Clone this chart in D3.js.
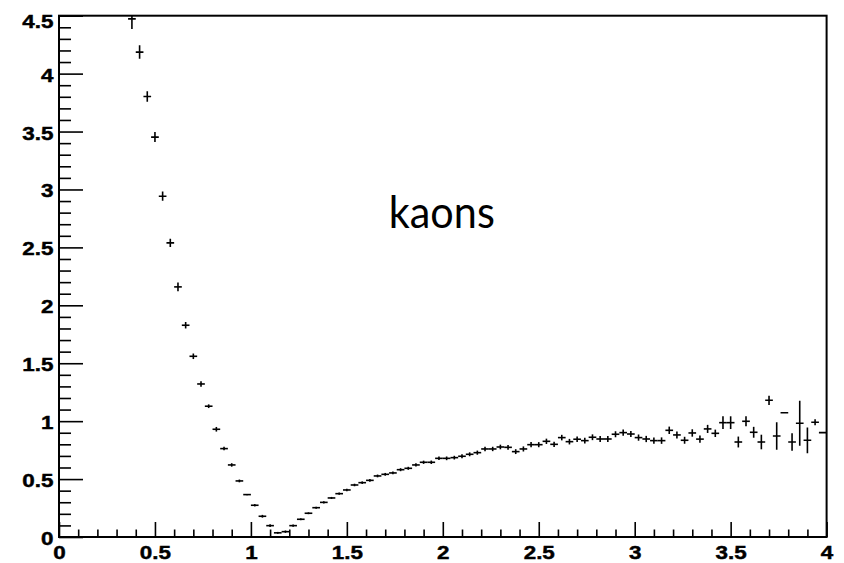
<!DOCTYPE html>
<html>
<head>
<meta charset="utf-8">
<script src="https://cdn.jsdelivr.net/npm/d3@7"></script>
<style>
  html, body { margin: 0; padding: 0; background: #ffffff; }
  svg { display: block; }
</style>
</head>
<body>
<svg id="chart" width="844" height="563"></svg>
<script>
// Histogram bin centres (bin width 0.04), contents and their errors
const binCenters = [
  0.38, 0.42, 0.46, 0.50, 0.54, 0.58, 0.62, 0.66, 0.70, 0.74,
  0.78, 0.82, 0.86, 0.90, 0.94, 0.98, 1.02, 1.06, 1.10, 1.14,
  1.18, 1.22, 1.26, 1.30, 1.34, 1.38, 1.42, 1.46, 1.50, 1.54,
  1.58, 1.62, 1.66, 1.70, 1.74, 1.78, 1.82, 1.86, 1.90, 1.94,
  1.98, 2.02, 2.06, 2.10, 2.14, 2.18, 2.22, 2.26, 2.30, 2.34,
  2.38, 2.42, 2.46, 2.50, 2.54, 2.58, 2.62, 2.66, 2.70, 2.74,
  2.78, 2.82, 2.86, 2.90, 2.94, 2.98, 3.02, 3.06, 3.10, 3.14,
  3.18, 3.22, 3.26, 3.30, 3.34, 3.38, 3.42, 3.46, 3.50, 3.54,
  3.58, 3.62, 3.66, 3.70, 3.74, 3.78, 3.82, 3.86, 3.90, 3.94,
  3.98
];
const binContents = [
  4.473, 4.186, 3.802, 3.452, 2.942, 2.539, 2.159, 1.828, 1.560, 1.321,
  1.129, 0.930, 0.763, 0.622, 0.484, 0.366, 0.274, 0.179, 0.098, 0.036,
  0.046, 0.098, 0.153, 0.205, 0.253, 0.299, 0.337, 0.374, 0.406, 0.449,
  0.469, 0.489, 0.527, 0.541, 0.553, 0.581, 0.593, 0.622, 0.645, 0.645,
  0.679, 0.679, 0.685, 0.697, 0.714, 0.728, 0.760, 0.760, 0.777, 0.774,
  0.737, 0.760, 0.797, 0.797, 0.826, 0.800, 0.858, 0.823, 0.844, 0.832,
  0.861, 0.846, 0.846, 0.887, 0.901, 0.889, 0.858, 0.846, 0.832, 0.832,
  0.921, 0.881, 0.835, 0.898, 0.845, 0.933, 0.895, 0.987, 0.987, 0.820,
  0.999, 0.904, 0.820, 1.180, 0.872, 1.073, 0.820, 0.982, 0.835, 0.990,
  0.901
];
const binErrors = [
  0.088, 0.058, 0.045, 0.043, 0.040, 0.035, 0.038, 0.028, 0.024, 0.023,
  0.016, 0.020, 0.015, 0.015, 0.012, 0.006, 0.010, 0.012, 0.012, 0.008,
  0.010, 0.010, 0.008, 0.008, 0.009, 0.009, 0.009, 0.010, 0.010, 0.011,
  0.011, 0.011, 0.012, 0.012, 0.012, 0.013, 0.013, 0.014, 0.014, 0.015,
  0.015, 0.016, 0.016, 0.017, 0.017, 0.018, 0.019, 0.019, 0.020, 0.020,
  0.021, 0.022, 0.022, 0.022, 0.023, 0.023, 0.024, 0.024, 0.024, 0.024,
  0.025, 0.025, 0.025, 0.026, 0.026, 0.026, 0.027, 0.027, 0.027, 0.028,
  0.032, 0.030, 0.030, 0.032, 0.032, 0.035, 0.032, 0.055, 0.055, 0.047,
  0.043, 0.047, 0.063, 0.040, 0.118, 0.000, 0.075, 0.194, 0.111, 0.026,
  0.000
];
const binWidth = 0.04;

const xMajorTicks = [0, 0.5, 1, 1.5, 2, 2.5, 3, 3.5, 4];
const xTickLabels = ["0", "0.5", "1", "1.5", "2", "2.5", "3", "3.5", "4"];
const yMajorTicks = [0, 0.5, 1, 1.5, 2, 2.5, 3, 3.5, 4, 4.5];
const yTickLabels = ["0", "0.5", "1", "1.5", "2", "2.5", "3", "3.5", "4", "4.5"];
const xDomain = [0, 4];
const yDomain = [0, 4.5];
const titleText = "kaons";

// Frame geometry
const frame = { left: 59, right: 826.6, top: 15.7, bottom: 537 };
const labelFont = "'Liberation Sans', Arial, Helvetica, sans-serif";
const labelSize = 19;
const stretch = 1.18;

const svg = d3.select("#chart");

const x = d3.scaleLinear().domain(xDomain).range([frame.left, frame.right]);
const y = d3.scaleLinear().domain(yDomain).range([frame.bottom, frame.top]);

// Minor ticks every 0.1 between the majors
const xMinor = x.ticks(40).filter(t => !xMajorTicks.some(m => Math.abs(m - t) < 1e-9));
const yMinor = y.ticks(45).filter(t => !yMajorTicks.some(m => Math.abs(m - t) < 1e-9));

svg.append("defs").append("clipPath").attr("id", "plotClip")
  .append("rect")
  .attr("x", frame.left).attr("y", frame.top)
  .attr("width", frame.right - frame.left)
  .attr("height", frame.bottom - frame.top);

// Error-bar crosses
const bins = binCenters.map((c, i) => ({ c, v: binContents[i], e: binErrors[i] }));
const marks = svg.append("g").attr("clip-path", "url(#plotClip)")
  .attr("stroke", "#000").attr("stroke-width", 1.6).attr("fill", "none");

marks.selectAll("line.h").data(bins).join("line")
  .attr("class", "h")
  .attr("x1", d => x(d.c - binWidth / 2))
  .attr("x2", d => x(d.c + binWidth / 2))
  .attr("y1", d => y(d.v))
  .attr("y2", d => y(d.v));

marks.selectAll("line.v").data(bins.filter(d => d.e > 0)).join("line")
  .attr("class", "v")
  .attr("x1", d => x(d.c))
  .attr("x2", d => x(d.c))
  .attr("y1", d => y(d.v - d.e))
  .attr("y2", d => y(d.v + d.e));

// X axis: major and minor ticks pointing into the frame
const gxMinor = svg.append("g").attr("transform", `translate(0,${frame.bottom})`)
  .call(d3.axisBottom(x).tickValues(xMinor).tickSize(-7.5).tickSizeOuter(0).tickFormat(""));
const gx = svg.append("g").attr("transform", `translate(0,${frame.bottom})`)
  .call(d3.axisBottom(x).tickValues(xMajorTicks).tickSize(-15).tickSizeOuter(0).tickPadding(9)
    .tickFormat((d, i) => xTickLabels[i]));

// Y axis
const gyMinor = svg.append("g").attr("transform", `translate(${frame.left},0)`)
  .call(d3.axisLeft(y).tickValues(yMinor).tickSize(-12).tickSizeOuter(0).tickFormat(""));
const gy = svg.append("g").attr("transform", `translate(${frame.left},0)`)
  .call(d3.axisLeft(y).tickValues(yMajorTicks).tickSize(-24).tickSizeOuter(0).tickPadding(5.5)
    .tickFormat((d, i) => yTickLabels[i]));

[gx, gxMinor, gy, gyMinor].forEach(g => {
  g.selectAll(".domain").remove();
  g.selectAll(".tick line").attr("stroke", "#000").attr("stroke-width", 1.6);
});

function styleLabels(sel) {
  sel.attr("fill", "#000")
    .attr("stroke", "#000").attr("stroke-width", 0.45)
    .style("font-family", labelFont).style("font-weight", "bold")
    .style("font-size", labelSize + "px");
}

styleLabels(gx.selectAll(".tick text"));
gx.selectAll(".tick text").attr("transform", `scale(${stretch},1)`);

styleLabels(gy.selectAll(".tick text"));
gy.selectAll(".tick text")
  .attr("dy", null)
  .attr("y", d => Math.max(7.5, frame.top + 11.5 - y(d)))
  .attr("transform", `translate(-5.5,0) scale(${stretch},1) translate(5.5,0)`);

// Frame box
svg.append("rect")
  .attr("x", frame.left).attr("y", frame.top)
  .attr("width", frame.right - frame.left)
  .attr("height", frame.bottom - frame.top)
  .attr("fill", "none").attr("stroke", "#000").attr("stroke-width", 2);

// Annotation inside the plot
svg.append("text")
  .attr("x", x(2.0) - 1)
  .attr("y", y(2.67))
  .attr("text-anchor", "middle")
  .style("font-family", "Lato, 'Open Sans', sans-serif")
  .style("font-size", "44px")
  .attr("textLength", 106)
  .attr("lengthAdjust", "spacingAndGlyphs")
  .attr("fill", "#000")
  .text(titleText);
</script>
</body>
</html>
